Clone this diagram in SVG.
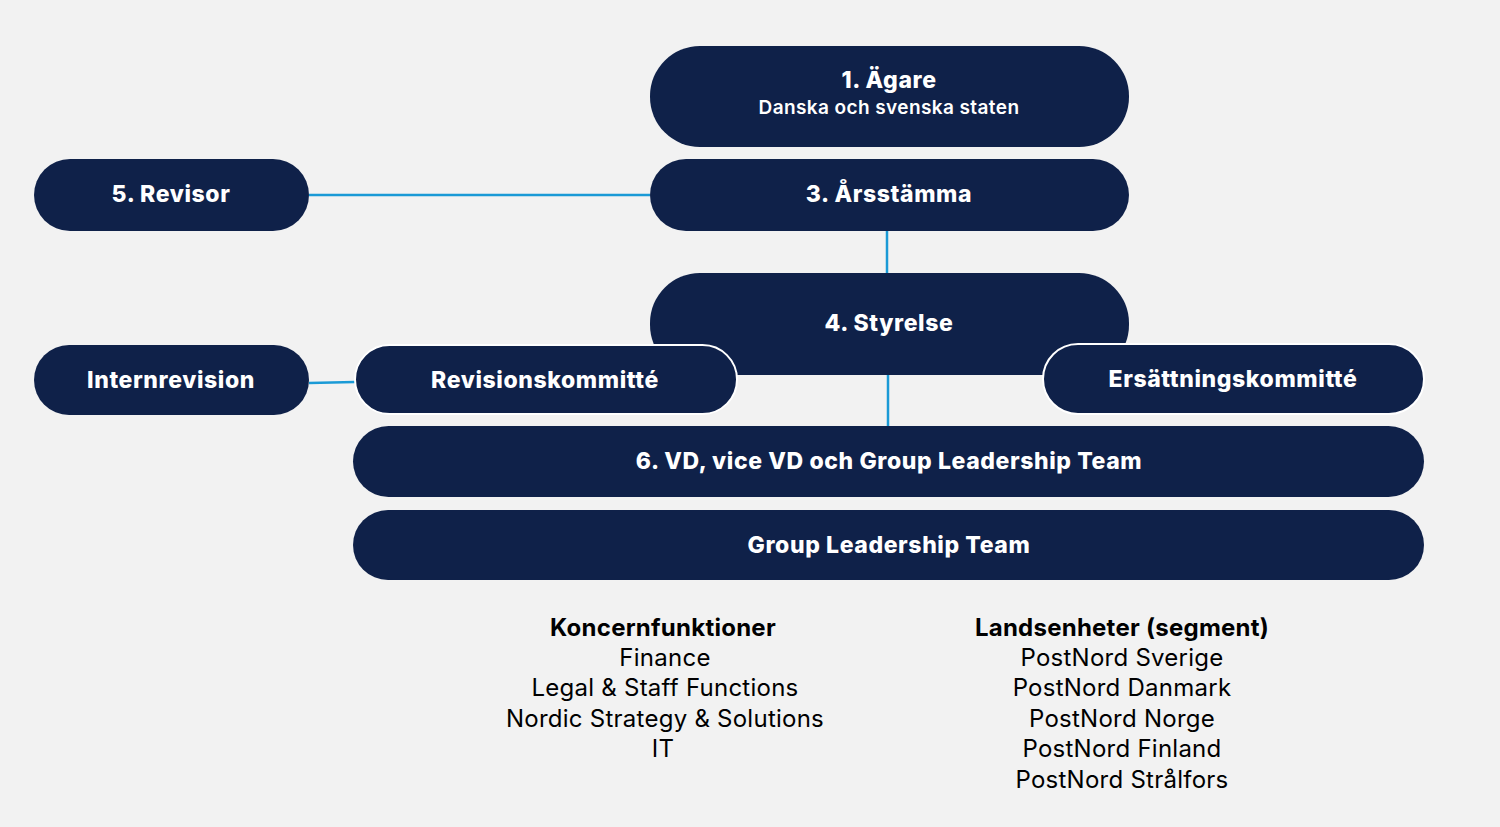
<svg xmlns="http://www.w3.org/2000/svg" width="1500" height="827" viewBox="0 0 1500 827">
<style>
.n{fill:#0f2149}
.c{fill:#0f2149;stroke:#ffffff;stroke-width:2}
.t{font-family:Inter,"Liberation Sans",sans-serif;font-weight:800;font-size:23px;letter-spacing:0.6px;fill:#ffffff;text-anchor:middle;dominant-baseline:central}
.s{font-family:Inter,"Liberation Sans",sans-serif;font-weight:600;font-size:19px;letter-spacing:0.4px;fill:#ffffff;text-anchor:middle;dominant-baseline:central}
.b{font-family:Inter,"Liberation Sans",sans-serif;font-size:24px;letter-spacing:0.25px;fill:#000000;text-anchor:middle;dominant-baseline:central}
.bh{font-weight:bold}
.l{stroke:#1a9ad6;stroke-width:2.5;fill:none}
</style>
<rect width="1500" height="827" fill="#f2f2f2"/>
<g id="connectors">
<line class="l" x1="309" y1="195" x2="650" y2="195"/>
<line class="l" x1="887" y1="231" x2="887" y2="273"/>
<line class="l" x1="888" y1="375" x2="888" y2="426"/>
<line class="l" x1="309" y1="383" x2="355" y2="382"/>
</g>
<g id="agare"><rect class="n" x="650" y="46" width="479" height="101" rx="50"/><text class="t" x="889" y="80">1. Ägare</text><text class="s" x="889" y="107">Danska och svenska staten</text></g>
<g id="arsstamma"><rect class="n" x="650" y="159" width="479" height="72" rx="36"/><text class="t" x="889" y="194">3. Årsstämma</text></g>
<g id="revisor"><rect class="n" x="34" y="159" width="275" height="72" rx="36"/><text class="t" x="171" y="194">5. Revisor</text></g>
<g id="styrelse"><rect class="n" x="650" y="273" width="479" height="102" rx="50"/><text class="t" x="889" y="323">4. Styrelse</text></g>
<g id="internrevision"><rect class="n" x="34" y="345" width="275" height="70" rx="35"/><text class="t" x="171" y="380">Internrevision</text></g>
<g id="revisionskommitte"><rect class="c" x="355" y="345" width="382" height="69" rx="34.5"/><text class="t" x="545" y="380">Revisionskommitté</text></g>
<g id="ersattningskommitte"><rect class="c" x="1043" y="344" width="381" height="70" rx="35"/><text class="t" x="1233" y="379">Ersättningskommitté</text></g>
<g id="vd"><rect class="n" x="353" y="426" width="1071" height="71" rx="35.5"/><text class="t" x="889" y="461">6. VD, vice VD och Group Leadership Team</text></g>
<g id="glt"><rect class="n" x="353" y="510" width="1071" height="70" rx="35"/><text class="t" x="889" y="545">Group Leadership Team</text></g>
<g id="koncernfunktioner">
<text class="b bh" x="663" y="627">Koncernfunktioner</text>
<text class="b" x="665" y="657">Finance</text>
<text class="b" x="665" y="687">Legal &amp; Staff Functions</text>
<text class="b" x="665" y="718">Nordic Strategy &amp; Solutions</text>
<text class="b" x="663" y="748">IT</text>
</g>
<g id="landsenheter">
<text class="b bh" x="1122" y="627">Landsenheter (segment)</text>
<text class="b" x="1122" y="657">PostNord Sverige</text>
<text class="b" x="1122" y="687">PostNord Danmark</text>
<text class="b" x="1122" y="718">PostNord Norge</text>
<text class="b" x="1122" y="748">PostNord Finland</text>
<text class="b" x="1122" y="779">PostNord Strålfors</text>
</g>
</svg>
